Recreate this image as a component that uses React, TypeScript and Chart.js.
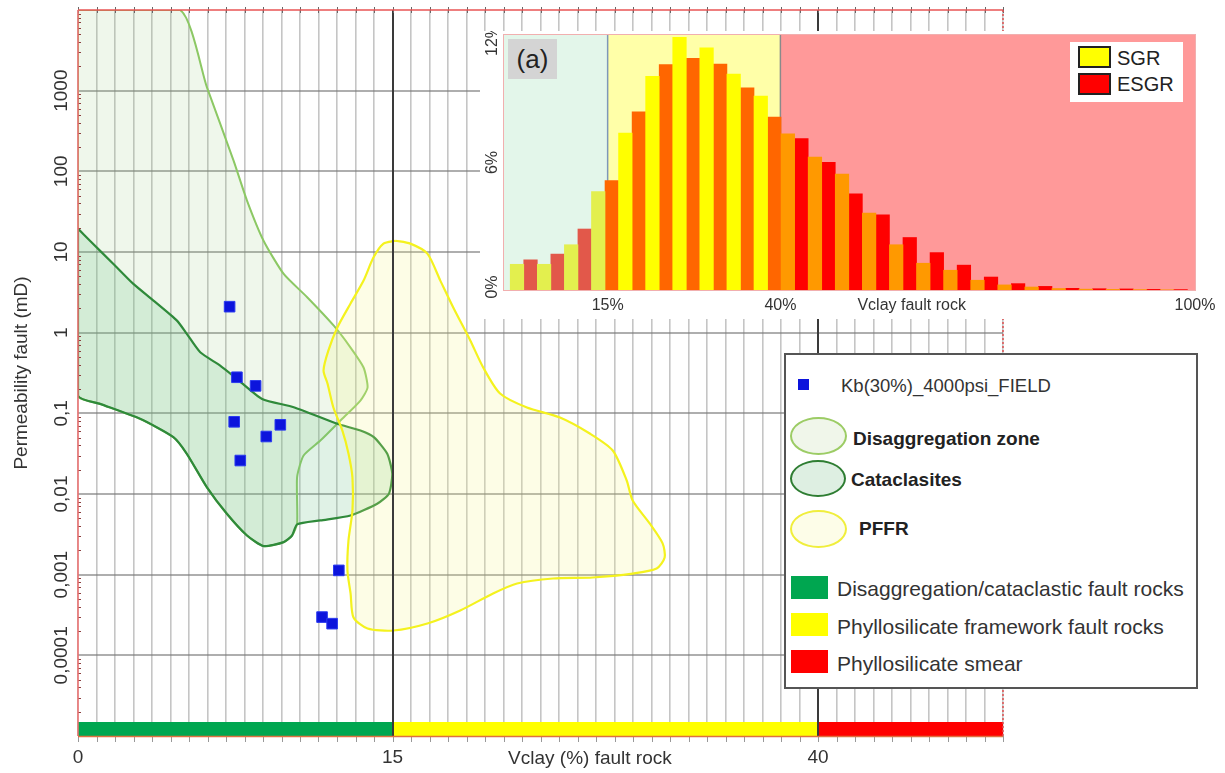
import React, { useEffect, useRef } from "react";
import { Chart, registerables, LinearScale } from "chart.js";

Chart.register(...registerables);

const FONT = '"Liberation Sans", Arial, Helvetica, sans-serif';

// ---------- main chart data ----------
const ZONE_BREAKS = [0, 15, 40, 50];
const ZONE_GRID_DIVISIONS = [17, 23, 10];
const ZONE_COLORS = ["#00a650", "#ffff00", "#ff0000"];
const X_TICK_VALUES = [0, 15, 40];
const X_TICK_LABELS = ["0", "15", "40"];
const X_TITLE = "Vclay (%) fault rock";
const X_TITLE_AT = 26.6;
const Y_TICK_VALUES = [1e-4, 1e-3, 1e-2, 1e-1, 1, 10, 100, 1000];
const Y_TICK_LABELS = ["0,0001", "0,001", "0,01", "0,1", "1", "10", "100", "1000"];
const Y_TITLE = "Permeability fault (mD)";

const FIELD_VCLAY = [7.23, 7.58, 8.47, 7.45, 9.65, 8.98, 7.74, 12.44, 11.64, 12.12];
const FIELD_PERM = [2.1, 0.28, 0.219, 0.0785, 0.0721, 0.0516, 0.026, 0.00113, 0.000298, 0.000247];

const DISAGG_ZONE: number[][] = [
  [0, 1e4], [4.87, 1e4], [6.15, 1100], [7.42, 136], [8.06, 43.4], [8.85, 13.8], [9.81, 5.35],
  [10.93, 2.75], [12.2, 1.22], [13.0, 0.653], [13.62, 0.37], [13.81, 0.209], [13.47, 0.144],
  [12.52, 0.0815], [11.56, 0.046], [10.76, 0.03], [10.45, 0.0162], [10.45, 0.00428],
  [10.21, 0.00306], [9.81, 0.00253], [8.85, 0.00226], [8.06, 0.00306], [7.1, 0.00569],
  [6.15, 0.0121], [5.19, 0.0315], [4.55, 0.0506], [2.96, 0.0855], [1.05, 0.131], [0, 0.166], [0, 1e4],
];

const CATACLASITES: number[][] = [
  [0, 19.5], [0.57, 13.8], [1.69, 7.1], [2.64, 4.02], [3.6, 2.5], [4.72, 1.41], [5.19, 0.966],
  [5.83, 0.571], [6.78, 0.391], [7.58, 0.268], [8.78, 0.151], [10.29, 0.119], [12.36, 0.0741],
  [13.47, 0.0612], [14.11, 0.0506], [14.75, 0.0315], [14.99, 0.0178], [14.83, 0.0101],
  [14.27, 0.00757], [13.0, 0.00542], [11.56, 0.0047], [10.45, 0.0042], [10.21, 0.00306],
  [9.81, 0.00253], [8.85, 0.00226], [8.06, 0.00306], [7.1, 0.00569], [6.15, 0.0121],
  [5.19, 0.0315], [4.55, 0.0506], [2.96, 0.0855], [1.05, 0.131], [0, 0.166], [0, 19.5],
];

const PFFR: number[][] = [
  [15.18, 13.8], [16.05, 12.7], [17.05, 9.55], [17.81, 4.42], [18.57, 2.05], [19.57, 0.8],
  [20.33, 0.37], [21.32, 0.176], [22.9, 0.118], [24.84, 0.0888], [26.59, 0.0562], [27.94, 0.0346],
  [28.76, 0.0147], [29.11, 0.0083], [30.11, 0.00431], [30.87, 0.00244], [30.99, 0.00163],
  [30.52, 0.00119], [29.11, 0.00103], [26.77, 0.000923], [24.43, 0.000897], [22.32, 0.000778],
  [20.91, 0.000585], [18.98, 0.00036], [17.05, 0.000248], [15.06, 0.000203], [13.81, 0.000215],
  [13.14, 0.000294], [13.0, 0.000585], [12.85, 0.00113], [12.9, 0.00265], [13.09, 0.00624],
  [13.09, 0.016], [12.9, 0.0318], [12.61, 0.0612], [12.18, 0.118], [11.9, 0.234], [11.71, 0.34],
  [11.94, 0.6], [12.37, 1.16], [13.0, 2.3], [13.62, 4.42], [14.09, 8.53], [14.57, 12.7], [15.18, 13.8],
];

// ---------- inset data ----------
const BIN_CENTERS = [
  2.86, 6.78, 10.7, 14.62, 18.54, 22.46, 26.38, 30.3, 34.22, 38.14, 42.06, 45.98, 49.9,
  53.82, 57.74, 61.66, 65.58, 69.5, 73.42, 77.34, 81.26, 85.18, 89.1, 93.02, 96.94,
];
const SGR = [
  1.21, 1.21, 2.13, 4.63, 7.39, 10.06, 11.89, 11.4, 10.16, 9.12, 7.35, 6.25, 5.46,
  3.62, 2.13, 1.26, 0.93, 0.46, 0.24, 0.14, 0.07, 0.04, 0.03, 0.02, 0.01,
];
const ESGR = [
  1.42, 1.69, 2.87, 5.15, 8.38, 10.61, 10.9, 10.63, 9.51, 8.14, 7.12, 6.01, 4.52,
  3.54, 2.47, 1.76, 1.17, 0.61, 0.3, 0.17, 0.08, 0.06, 0.05, 0.03, 0.02,
];
const INSET_ZONE_BREAKS = [0, 15, 40, 100];
const INSET_ZONE_BG = ["#e3f6ea", "#ffffa8", "#ff9999"];
const SGR_COLORS = ["#e3ef4e", "#ffff00", "#ff9900"];
const ESGR_COLORS = ["#e2584a", "#ff6600", "#ff0000"];
const INSET_Y_TICKS = [0, 6, 12];
const INSET_X_TICKS = [15, 40, 100];
const INSET_X_TITLE = "Vclay fault rock";
const INSET_X_TITLE_AT = 59;

// ---------- custom zone scale (piecewise linear) ----------
const TOTAL_DIV = ZONE_GRID_DIVISIONS.reduce((a, b) => a + b, 0);
function valueToUnits(v: number) {
  const n = ZONE_BREAKS.length - 1;
  let acc = 0;
  for (let i = 0; i < n; i++) {
    const a = ZONE_BREAKS[i], b = ZONE_BREAKS[i + 1];
    if (v <= b || i === n - 1) return acc + ((v - a) / (b - a)) * ZONE_GRID_DIVISIONS[i];
    acc += ZONE_GRID_DIVISIONS[i];
  }
  return acc;
}
function unitsToValue(u: number) {
  const n = ZONE_BREAKS.length - 1;
  let acc = 0;
  for (let i = 0; i < n; i++) {
    const d = ZONE_GRID_DIVISIONS[i];
    const a = ZONE_BREAKS[i], b = ZONE_BREAKS[i + 1];
    if (u <= acc + d || i === n - 1) return a + ((u - acc) / d) * (b - a);
    acc += d;
  }
  return ZONE_BREAKS[n];
}

class ZoneScale extends (LinearScale as any) {
  static id = "zone";
  static defaults = {};
  getPixelForValue(value: any) {
    if (value === null || value === undefined || isNaN(value)) return NaN;
    return (this as any).getPixelForDecimal(valueToUnits(+value) / TOTAL_DIV);
  }
  getValueForPixel(pixel: number) {
    return unitsToValue((this as any).getDecimalForPixel(pixel) * TOTAL_DIV);
  }
  buildTicks() {
    const ticks: any[] = [];
    for (let u = 0; u <= TOTAL_DIV; u++) ticks.push({ value: unitsToValue(u) });
    return ticks;
  }
}
Chart.register(ZoneScale as any);

const toXY = (pts: number[][]) => pts.map(([x, y]) => ({ x, y }));

function zoneIndex(v: number, breaks: number[]) {
  for (let i = 0; i < breaks.length - 1; i++) if (v < breaks[i + 1]) return i;
  return breaks.length - 2;
}

const mainDecor = {
  id: "mainDecor",
  afterDatasetsDraw(chart: any) {
    const { ctx, chartArea: ca, scales } = chart;
    const xs = scales.x, ys = scales.y;
    ctx.save();
    // zone bar at bottom
    const barH = 14;
    for (let i = 0; i < ZONE_COLORS.length; i++) {
      const x0 = xs.getPixelForValue(ZONE_BREAKS[i]);
      const x1 = xs.getPixelForValue(ZONE_BREAKS[i + 1]);
      ctx.fillStyle = ZONE_COLORS[i];
      ctx.fillRect(x0, ca.bottom - barH, x1 - x0, barH);
    }
    // zone boundary lines
    ctx.strokeStyle = "#3a3a3a";
    ctx.lineWidth = 2;
    for (const v of ZONE_BREAKS.slice(1, -1)) {
      const x = Math.round(xs.getPixelForValue(v));
      ctx.beginPath();
      ctx.moveTo(x, ca.top);
      ctx.lineTo(x, ca.bottom);
      ctx.stroke();
    }
    // tick marks top & bottom
    ctx.lineWidth = 1;
    xs.ticks.forEach((t: any) => {
      const x = Math.round(xs.getPixelForValue(t.value)) + 0.5;
      ctx.strokeStyle = "#666";
      ctx.beginPath();
      ctx.moveTo(x, ca.top - 3);
      ctx.lineTo(x, ca.top + 3);
      ctx.stroke();
      ctx.strokeStyle = "#999";
      ctx.beginPath();
      ctx.moveTo(x, ca.bottom);
      ctx.lineTo(x, ca.bottom + 6);
      ctx.stroke();
    });
    // left minor ticks (log)
    ctx.strokeStyle = "#8a4040";
    for (let d = -5; d < 4; d++) {
      for (let m = 2; m <= 9; m++) {
        const y = Math.round(ys.getPixelForValue(m * Math.pow(10, d))) + 0.5;
        ctx.beginPath();
        ctx.moveTo(ca.left, y);
        ctx.lineTo(ca.left + 3, y);
        ctx.stroke();
      }
    }
    // borders
    ctx.strokeStyle = "#e85555";
    ctx.lineWidth = 1.5;
    ctx.beginPath();
    ctx.moveTo(ca.left, ca.top);
    ctx.lineTo(ca.right, ca.top);
    ctx.stroke();
    ctx.strokeStyle = "#f07070";
    ctx.beginPath();
    ctx.moveTo(ca.left, ca.top);
    ctx.lineTo(ca.left, ca.bottom);
    ctx.stroke();
    ctx.strokeStyle = "#e07040";
    ctx.beginPath();
    ctx.moveTo(ca.left, ca.bottom + 0.5);
    ctx.lineTo(ca.right, ca.bottom + 0.5);
    ctx.stroke();
    ctx.strokeStyle = "#e05050";
    ctx.setLineDash([2, 2]);
    ctx.beginPath();
    ctx.moveTo(ca.right, ca.top);
    ctx.lineTo(ca.right, ca.bottom);
    ctx.stroke();
    ctx.setLineDash([]);

    // labels
    ctx.fillStyle = "#333";
    ctx.font = `19px ${FONT}`;
    ctx.textAlign = "center";
    ctx.textBaseline = "middle";
    Y_TICK_VALUES.forEach((v, i) => {
      const y = ys.getPixelForValue(v);
      ctx.save();
      ctx.translate(ca.left - 16, y);
      ctx.rotate(-Math.PI / 2);
      ctx.fillText(Y_TICK_LABELS[i], 0, 0);
      ctx.restore();
    });
    ctx.save();
    ctx.translate(ca.left - 56, (ca.top + ca.bottom) / 2);
    ctx.rotate(-Math.PI / 2);
    ctx.fillText(Y_TITLE, 0, 0);
    ctx.restore();
    X_TICK_VALUES.forEach((v, i) => {
      ctx.fillText(X_TICK_LABELS[i], xs.getPixelForValue(v), ca.bottom + 22);
    });
    ctx.fillText(X_TITLE, xs.getPixelForValue(X_TITLE_AT), ca.bottom + 23);
    ctx.restore();
  },
};

const insetDecor = {
  id: "insetDecor",
  beforeDatasetsDraw(chart: any) {
    const { ctx, chartArea: ca, scales } = chart;
    const xs = scales.x;
    ctx.save();
    for (let i = 0; i < INSET_ZONE_BG.length; i++) {
      const x0 = xs.getPixelForValue(INSET_ZONE_BREAKS[i]);
      const x1 = xs.getPixelForValue(INSET_ZONE_BREAKS[i + 1]);
      ctx.fillStyle = INSET_ZONE_BG[i];
      ctx.fillRect(x0, ca.top, x1 - x0, ca.bottom - ca.top);
    }
    const sepColors = ["#7f97b8", "#8a8a8a"];
    ctx.lineWidth = 1.5;
    INSET_ZONE_BREAKS.slice(1, -1).forEach((v, i) => {
      const x = xs.getPixelForValue(v);
      ctx.strokeStyle = sepColors[i];
      ctx.beginPath();
      ctx.moveTo(x, ca.top);
      ctx.lineTo(x, ca.bottom);
      ctx.stroke();
    });
    ctx.restore();
  },
  afterDraw(chart: any) {
    const { ctx, chartArea: ca, scales } = chart;
    const xs = scales.x, ys = scales.y;
    ctx.save();
    ctx.strokeStyle = "rgba(230,110,110,0.55)";
    ctx.lineWidth = 1;
    ctx.strokeRect(ca.left - 0.5, ca.top - 0.5, ca.right - ca.left + 1, ca.bottom - ca.top + 1);
    ctx.fillStyle = "#333";
    ctx.font = `16px ${FONT}`;
    ctx.textAlign = "center";
    ctx.textBaseline = "middle";
    INSET_Y_TICKS.forEach((v) => {
      let y = ys.getPixelForValue(v);
      y = Math.max(ca.top + 5, Math.min(ca.bottom - 3, y));
      ctx.save();
      ctx.translate(ca.left - 11, y);
      ctx.rotate(-Math.PI / 2);
      ctx.fillText(`${v}%`, 0, 0);
      ctx.restore();
    });
    INSET_X_TICKS.forEach((v) => {
      ctx.fillText(`${v}%`, xs.getPixelForValue(v), ca.bottom + 16);
    });
    ctx.fillText(INSET_X_TITLE, xs.getPixelForValue(INSET_X_TITLE_AT), ca.bottom + 16);
    ctx.restore();
  },
};

const hiddenAxis = {
  ticks: { display: false },
  grid: { display: false, drawTicks: false, tickLength: 0, offset: false },
  border: { display: false },
};

export default function App() {
  const mainRef = useRef<HTMLCanvasElement>(null);
  const insetRef = useRef<HTMLCanvasElement>(null);

  useEffect(() => {
    const main = new Chart(mainRef.current as HTMLCanvasElement, {
      type: "scatter",
      data: {
        datasets: [
          {
            type: "scatter",
            label: "Kb(30%)_4000psi_FIELD",
            data: FIELD_VCLAY.map((x, i) => ({ x, y: FIELD_PERM[i] })),
            pointStyle: "rect",
            pointRadius: 7.5,
            backgroundColor: "#0c14dc",
            borderColor: "#2a3af0",
            borderWidth: 1,
          },
          {
            type: "line",
            label: "PFFR",
            data: toXY(PFFR),
            borderColor: "#f4f21e",
            borderWidth: 2.2,
            backgroundColor: "rgba(245,245,130,0.2)",
            fill: "shape",
            pointRadius: 0,
            tension: 0.25,
          },
          {
            type: "line",
            label: "Cataclasites",
            data: toXY(CATACLASITES),
            borderColor: "#2f8a3a",
            borderWidth: 2.2,
            backgroundColor: "rgba(100,190,130,0.2)",
            fill: "shape",
            pointRadius: 0,
            tension: 0.2,
          },
          {
            type: "line",
            label: "Disaggregation zone",
            data: toXY(DISAGG_ZONE),
            borderColor: "#8cc864",
            borderWidth: 2,
            backgroundColor: "rgba(150,200,120,0.15)",
            fill: "shape",
            pointRadius: 0,
            tension: 0.2,
          },
        ] as any,
      },
      options: {
        responsive: false,
        animation: false,
        events: [],
        layout: { padding: { left: 78, top: 10, right: 222, bottom: 37 } },
        plugins: { legend: { display: false }, tooltip: { enabled: false } },
        scales: {
          x: {
            type: "zone" as any,
            min: 0,
            max: 50,
            ticks: { display: false },
            grid: { color: "rgba(140,140,140,0.5)", lineWidth: 1.6, drawTicks: false, tickLength: 0 },
            border: { display: false },
          },
          y: {
            type: "logarithmic",
            min: 1e-5,
            max: 1e4,
            afterBuildTicks: (scale: any) => {
              scale.ticks = Y_TICK_VALUES.map((v) => ({ value: v }));
            },
            ticks: { display: false },
            grid: { color: "rgba(120,120,120,0.6)", lineWidth: 2, drawTicks: false, tickLength: 0 },
            border: { display: false },
          },
        } as any,
      },
      plugins: [mainDecor],
    });

    const binWidth = BIN_CENTERS[1] - BIN_CENTERS[0];
    const inset = new Chart(insetRef.current as HTMLCanvasElement, {
      type: "bar",
      data: {
        datasets: [
          {
            label: "SGR",
            data: BIN_CENTERS.map((x, i) => ({ x, y: SGR[i] })),
            backgroundColor: BIN_CENTERS.map((c) => SGR_COLORS[zoneIndex(c - binWidth / 4, INSET_ZONE_BREAKS)]),
            borderWidth: 0,
          },
          {
            label: "ESGR",
            data: BIN_CENTERS.map((x, i) => ({ x, y: ESGR[i] })),
            backgroundColor: BIN_CENTERS.map((c) => ESGR_COLORS[zoneIndex(c + binWidth / 4, INSET_ZONE_BREAKS)]),
            borderWidth: 0,
          },
        ] as any,
      },
      options: {
        responsive: false,
        animation: false,
        events: [],
        layout: { padding: { left: 24, top: 4, right: 30, bottom: 29 } },
        plugins: { legend: { display: false }, tooltip: { enabled: false } },
        datasets: { bar: { categoryPercentage: 1, barPercentage: 1 } } as any,
        scales: {
          x: { type: "linear", min: 0, max: 100, offset: false, ...hiddenAxis },
          y: { type: "linear", min: 0, max: 12, ...hiddenAxis },
        } as any,
      },
      plugins: [insetDecor],
    });

    return () => {
      main.destroy();
      inset.destroy();
    };
  }, []);

  const legendText: React.CSSProperties = {
    position: "absolute",
    whiteSpace: "nowrap",
    transform: "translateY(-50%)",
    lineHeight: 1,
  };
  const reg = { ...legendText, fontSize: 21, color: "#333" };
  const bold = { ...legendText, fontSize: 19, fontWeight: 700, color: "#222" };
  const ell = (border: string, bw: number, bg: string, top: number): React.CSSProperties => ({
    position: "absolute",
    left: 4,
    top,
    width: 57 - 2 * bw,
    height: 38 - 2 * bw,
    border: `${bw}px solid ${border}`,
    borderRadius: "50%",
    background: bg,
  });
  const rect = (bg: string, top: number): React.CSSProperties => ({
    position: "absolute",
    left: 5,
    top,
    width: 37,
    height: 23,
    background: bg,
  });

  return (
    <div
      style={{
        position: "absolute",
        left: 0,
        top: 0,
        width: 1225,
        height: 773,
        background: "#fff",
        fontFamily: FONT,
        overflow: "hidden",
      }}
    >
      <canvas ref={mainRef} width={1225} height={773} style={{ position: "absolute", left: 0, top: 0, width: 1225, height: 773 }} />

      {/* inset histogram */}
      <div style={{ position: "absolute", left: 480, top: 31, width: 745, height: 288, background: "#fff" }}>
        <canvas ref={insetRef} width={745} height={288} style={{ position: "absolute", left: 0, top: 0, width: 745, height: 288 }} />
        <div
          style={{
            position: "absolute",
            left: 28,
            top: 8,
            width: 49,
            height: 40,
            background: "#d4d4d4",
            color: "#222",
            fontSize: 26,
            lineHeight: "40px",
            textAlign: "center",
          }}
        >
          (a)
        </div>
        <div style={{ position: "absolute", left: 590, top: 11, width: 113, height: 60, background: "#fff" }}>
          <div style={{ position: "absolute", left: 8, top: 4, width: 29, height: 18, background: "#ffff00", border: "2px solid #222" }} />
          <div style={{ position: "absolute", left: 8, top: 31, width: 29, height: 18, background: "#ff0000", border: "2px solid #222" }} />
          <div style={{ ...legendText, left: 47, top: 16, fontSize: 20, color: "#222" }}>SGR</div>
          <div style={{ ...legendText, left: 47, top: 42, fontSize: 20, color: "#222" }}>ESGR</div>
        </div>
      </div>

      {/* main legend */}
      <div
        style={{
          position: "absolute",
          left: 784,
          top: 353,
          width: 410,
          height: 332,
          border: "2px solid #555",
          background: "#fff",
        }}
      >
        <div style={{ position: "absolute", left: 12, top: 24, width: 11, height: 11, background: "#0c14dc" }} />
        <div style={{ ...reg, fontSize: 18.5, left: 55, top: 31 }}>Kb(30%)_4000psi_FIELD</div>
        <div style={ell("#9ccc65", 2, "#f0f6ea", 62)} />
        <div style={{ ...bold, left: 67, top: 83 }}>Disaggregation zone</div>
        <div style={ell("#2e7d32", 2.5, "#deefe2", 105)} />
        <div style={{ ...bold, left: 65, top: 124 }}>Cataclasites</div>
        <div style={ell("#f0ee3c", 2, "#fdfde8", 155)} />
        <div style={{ ...bold, left: 73, top: 173 }}>PFFR</div>
        <div style={rect("#00a650", 221)} />
        <div style={{ ...reg, left: 51, top: 233 }}>Disaggregation/cataclastic fault rocks</div>
        <div style={rect("#ffff00", 258)} />
        <div style={{ ...reg, left: 51, top: 271 }}>Phyllosilicate framework fault rocks</div>
        <div style={rect("#ff0000", 295)} />
        <div style={{ ...reg, left: 51, top: 308 }}>Phyllosilicate smear</div>
      </div>
    </div>
  );
}
